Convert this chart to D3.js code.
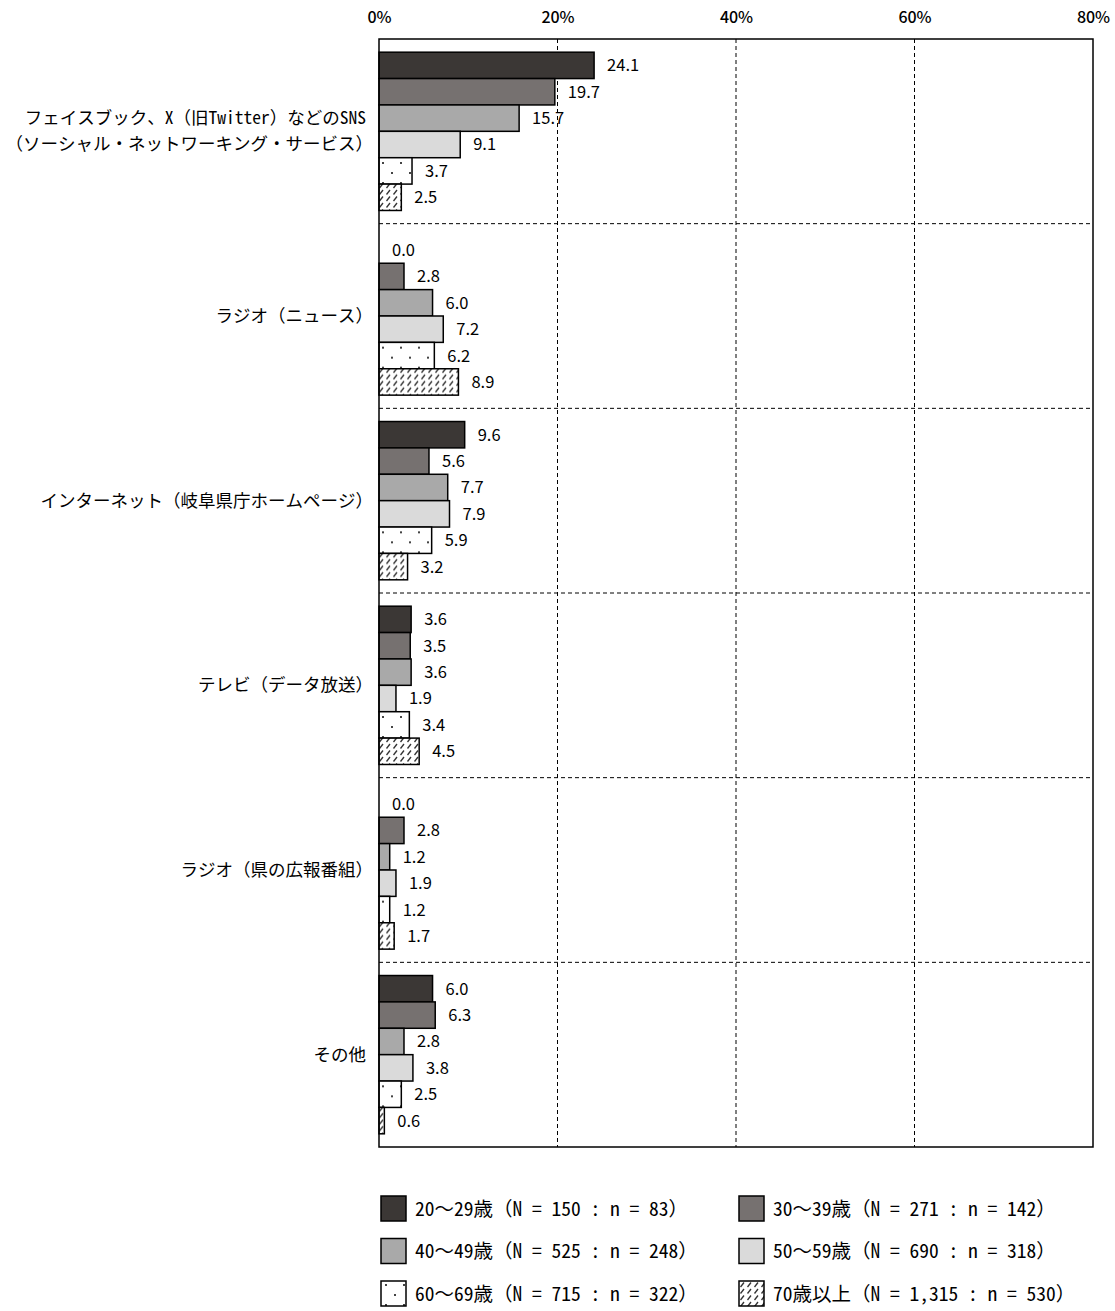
<!DOCTYPE html>
<html><head><meta charset="utf-8">
<script src="https://cdn.jsdelivr.net/npm/d3@7/dist/d3.min.js"></script>
<style>
body{margin:0;background:#fff;}
text{font-family:"Noto Sans Mono CJK JP","Noto Sans CJK JP",sans-serif;fill:#000;}
</style></head>
<body><svg id="chart" width="1115" height="1311"></svg>
<script>
const categories = [
  ["フェイスブック、X（旧Twitter）などのSNS","（ソーシャル・ネットワーキング・サービス）"],
  ["ラジオ（ニュース）"],
  ["インターネット（岐阜県庁ホームページ）"],
  ["テレビ（データ放送）"],
  ["ラジオ（県の広報番組）"],
  ["その他"]
];
const seriesNames = [
  "20～29歳（N = 150 : n = 83）",
  "30～39歳（N = 271 : n = 142）",
  "40～49歳（N = 525 : n = 248）",
  "50～59歳（N = 690 : n = 318）",
  "60～69歳（N = 715 : n = 322）",
  "70歳以上（N = 1,315 : n = 530）"
];
const age20s = [24.1, 0.0, 9.6, 3.6, 0.0, 6.0];
const age30s = [19.7, 2.8, 5.6, 3.5, 2.8, 6.3];
const age40s = [15.7, 6.0, 7.7, 3.6, 1.2, 2.8];
const age50s = [9.1, 7.2, 7.9, 1.9, 1.9, 3.8];
const age60s = [3.7, 6.2, 5.9, 3.4, 1.2, 2.5];
const age70s = [2.5, 8.9, 3.2, 4.5, 1.7, 0.6];
const seriesValues = [age20s, age30s, age40s, age50s, age60s, age70s];
const tickValues = [0, 20, 40, 60, 80];

const svg = d3.select("#chart");
const pL = 379, pR = 1093, pT = 39, pB = 1147;
const propFont = "'Noto Sans CJK JP','Noto Sans',sans-serif";

const defs = svg.append("defs");
const dots = defs.append("pattern").attr("id","dots").attr("patternUnits","userSpaceOnUse")
  .attr("width",18).attr("height",20);
dots.append("rect").attr("width",18).attr("height",20).attr("fill","#fff");
dots.append("rect").attr("x",4).attr("y",3).attr("width",2).attr("height",2).attr("fill","#444");
dots.append("rect").attr("x",13).attr("y",13).attr("width",2).attr("height",2).attr("fill","#444");
const hatch = defs.append("pattern").attr("id","hatch").attr("patternUnits","userSpaceOnUse")
  .attr("width",7).attr("height",13);
hatch.append("rect").attr("width",7).attr("height",13).attr("fill","#fff");
hatch.append("line").attr("x1",1.5).attr("y1",6).attr("x2",5).attr("y2",1.5).attr("stroke","#333").attr("stroke-width",1.3);
hatch.append("line").attr("x1",1.5).attr("y1",12.5).attr("x2",5).attr("y2",8).attr("stroke","#333").attr("stroke-width",1.3);

const fills = ["#3b3735","#767170","#a9a9a9","#dadada","url(#dots)","url(#hatch)"];

const x = d3.scaleLinear().domain([0,80]).range([pL,pR]);
const y0 = d3.scaleBand().domain(d3.range(categories.length)).range([pT,pB]).paddingInner(0);
const y1 = d3.scaleBand().domain(d3.range(seriesNames.length)).range([0,y0.bandwidth()]).paddingOuter(0.5);

// grid
const g = svg.append("g");
g.selectAll(".vg").data(tickValues.slice(1,-1)).join("line")
  .attr("x1",d=>x(d)).attr("x2",d=>x(d)).attr("y1",pT).attr("y2",pB)
  .attr("stroke","#000").attr("stroke-width",1).attr("stroke-dasharray","4,3");
g.selectAll(".hg").data(d3.range(1,categories.length)).join("line")
  .attr("x1",pL).attr("x2",pR).attr("y1",d=>y0(d)).attr("y2",d=>y0(d))
  .attr("stroke","#000").attr("stroke-width",1).attr("stroke-dasharray","4,3");

// axis labels
const xAxis = d3.axisTop(x).tickValues(tickValues).tickFormat(d=>d+"%").tickSize(0).tickPadding(0);
const ax = svg.append("g").attr("transform","translate(0,23)").call(xAxis);
ax.select(".domain").remove();
ax.selectAll("text").style("font-size","16px").attr("dy","0").attr("fill","#000")
  .style("font-family",propFont).style("font-weight","500");

// bars
const groups = svg.append("g").selectAll("g").data(categories).join("g")
  .attr("transform",(d,i)=>`translate(0,${y0(i)})`);
groups.each(function(c,ci){
  const gg = d3.select(this);
  const rows = seriesValues.map((s,si)=>({si, v:s[ci]}));
  gg.selectAll("rect").data(rows).join("rect")
    .attr("x",x(0)).attr("y",d=>y1(d.si)).attr("width",d=>x(d.v)-x(0)).attr("height",y1.bandwidth())
    .attr("fill",d=>fills[d.si]).attr("stroke",d=>d.v>0?"#000":"none").attr("stroke-width",1.5);
  gg.selectAll("text.val").data(rows).join("text").attr("class","val")
    .attr("x",d=>x(d.v)+13).attr("y",d=>y1(d.si)+y1.bandwidth()/2).attr("dy","0.36em")
    .style("font-size","16.5px").style("font-family",propFont)
    .text(d=>d.v.toFixed(1));
  const cy = y0.bandwidth()/2;
  const n = c.length;
  gg.selectAll("text.cat").data(c).join("text").attr("class","cat")
    .attr("x",d=>d.endsWith("）")?373:366).attr("y",(d,i)=>cy+(i-(n-1)/2)*26).attr("dy","0.35em")
    .attr("text-anchor","end").style("font-size","17.5px").text(d=>d);
});

// frame
svg.append("rect").attr("x",pL).attr("y",pT).attr("width",pR-pL).attr("height",pB-pT)
  .attr("fill","none").attr("stroke","#000").attr("stroke-width",1.5);

// legend
const leg = svg.append("g").selectAll("g").data(seriesNames).join("g")
  .attr("transform",(d,i)=>`translate(${i%2===0?381:739},${1196+Math.floor(i/2)*42.5})`);
leg.append("rect").attr("width",25).attr("height",25).attr("fill",(d,i)=>fills[i])
  .attr("stroke","#000").attr("stroke-width",1.5);
leg.append("text").attr("x",34).attr("y",13).attr("dy","0.35em").style("font-size","19.5px").text(d=>d);
</script></body></html>
